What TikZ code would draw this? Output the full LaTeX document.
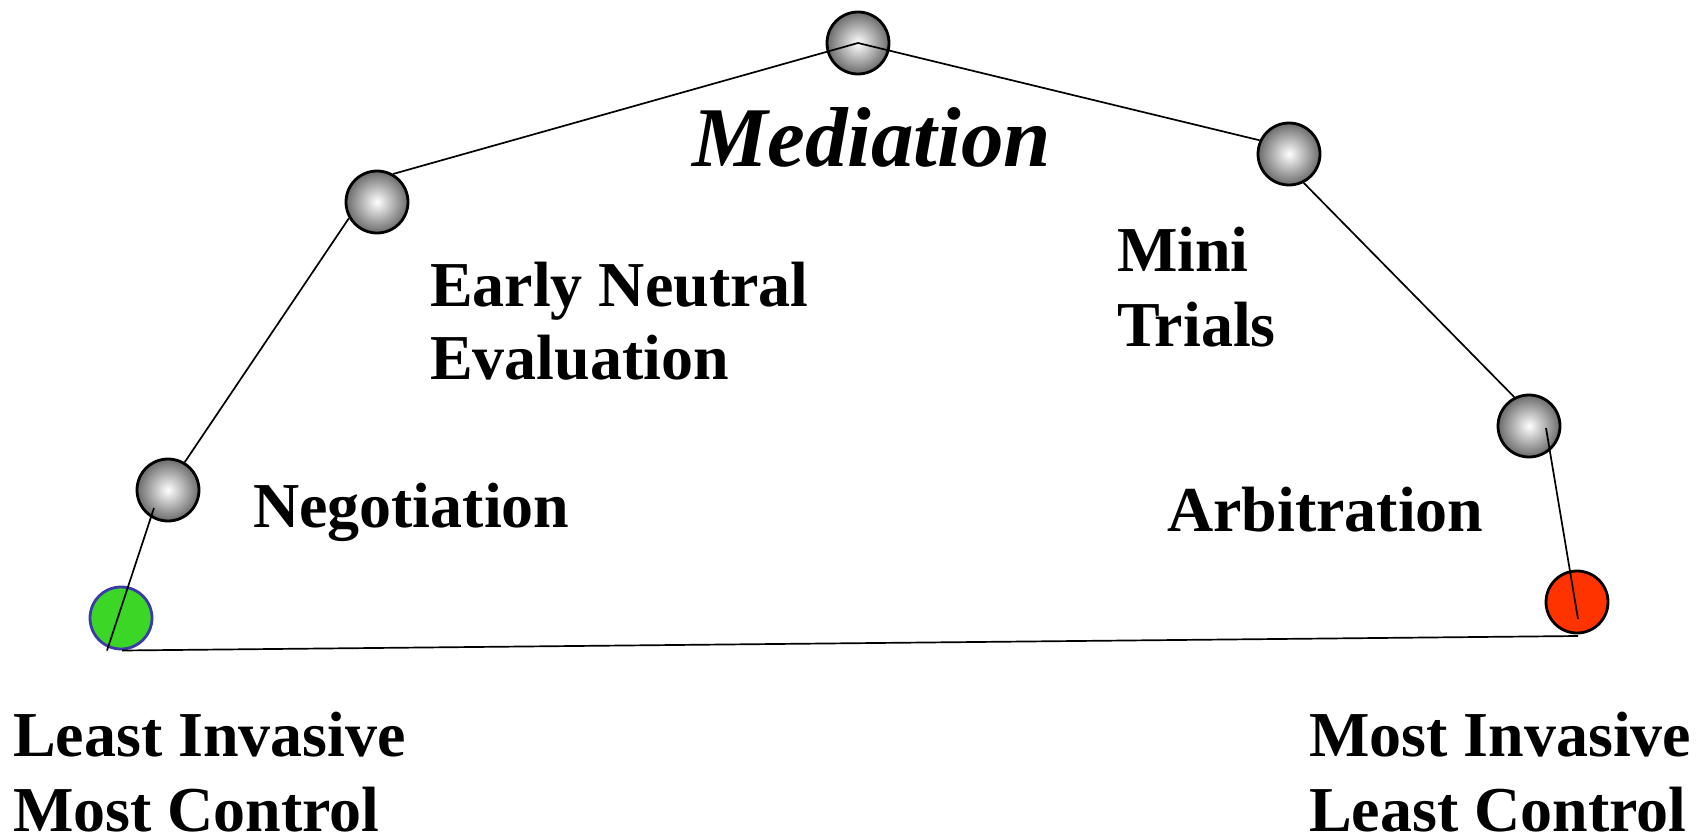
\documentclass[tikz,border=0pt]{standalone}
\usepackage{fontspec}
\setmainfont{Liberation Serif}
\usetikzlibrary{calc}
\definecolor{greenball}{HTML}{3CD626}
\definecolor{greenedge}{HTML}{3A3AA8}
\definecolor{redball}{HTML}{FF3300}
\tikzset{
  ball/.style={circle, minimum size=62pt, inner sep=0pt, draw=black, line width=2.8pt,
    shading=radial, inner color=white, outer color=black!58},
  flatball/.style={circle, minimum size=62pt, inner sep=0pt, line width=2.8pt},
  conn/.style={draw=black, line width=1.7pt},
  lbl/.style={anchor=base west, inner sep=0pt, outer sep=0pt, font=\fontsize{64}{76}\selectfont\bfseries},
  title/.style={anchor=base west, inner sep=0pt, outer sep=0pt, font=\fontsize{85}{100}\selectfont\bfseries\itshape}
}
\begin{document}
\begin{tikzpicture}[x=1pt,y=-1pt]
\useasboundingbox (0,0) rectangle (1705,837);
% circles
\node[ball] (apex) at (858,43) {};
\node[ball] (ene) at (377,202) {};
\node[ball] (neg) at (168,490) {};
\node[flatball, draw=greenedge, fill=greenball] (least) at (121,618) {};
\node[ball] (mini) at (1289,154) {};
\node[ball] (arb) at (1529,426) {};
\node[flatball, draw=black, fill=redball] (most) at (1577,602) {};
% connectors
\draw[conn] (apex.center) -- (ene.60);
\draw[conn] (apex.center) -- (mini.155);
\draw[conn] (ene.210) -- (neg.59);
\draw[conn] ($(neg.center)+(-14,18)$) -- ($(least.center)+(-14,32.5)$);
\draw[conn] ($(least.center)+(1,32.5)$) -- ($(most.center)+(1,34)$);
\draw[conn] (mini.-63) -- (arb.117);
\draw[conn] ($(arb.center)+(17,2)$) -- ($(most.center)+(1,17)$);
% labels
\node[title] (tmed) at (692,167) {Mediation};
\node[lbl] (tene1) at (430,306) {Early Neutral};
\node[lbl] (tene2) at (430,379) {Evaluation};
\node[lbl] (tneg) at (253,527) {Negotiation};
\node[lbl] (tmini1) at (1117,271) {Mini};
\node[lbl] (tmini2) at (1117,346) {Trials};
\node[lbl] (tarb) at (1167,531) {Arbitration};
\node[lbl] (tl1) at (13,756) {Least Invasive};
\node[lbl, text depth=0pt] (tl2) at (13,831) {Most Control};
\node[lbl] (tr1) at (1309,756) {Most Invasive};
\node[lbl, text depth=0pt] (tr2) at (1309,831) {Least Control};
\end{tikzpicture}
\end{document}
